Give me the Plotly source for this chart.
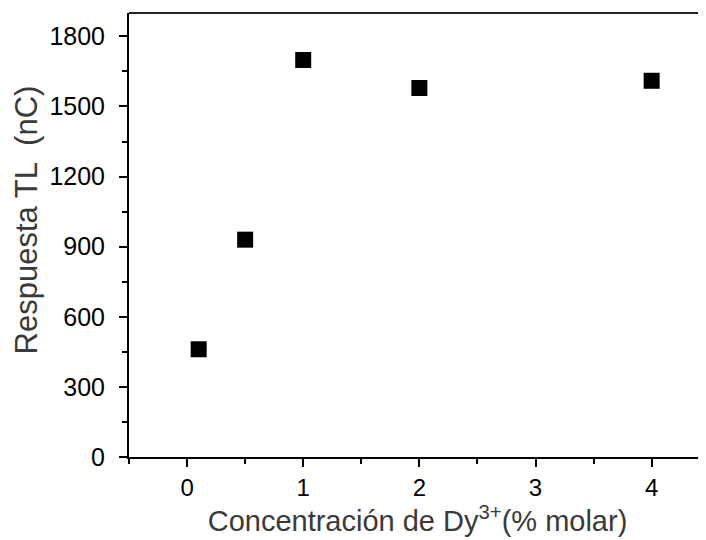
import plotly.graph_objects as go

conc = [0.1, 0.5, 1, 2, 4]
resp = [461, 930, 1699, 1579, 1610]
x_ticks = [0, 1, 2, 3, 4]
y_ticks = [0, 300, 600, 900, 1200, 1500, 1800]

fig = go.Figure()
fig.add_trace(go.Scatter(
    x=conc, y=resp, mode="markers",
    marker=dict(symbol="square", size=16, color="black", line=dict(width=0)),
    showlegend=False, cliponaxis=False,
))

font = "Liberation Sans, Arial, sans-serif"
# page body has an 8px margin, so the figure is shifted by 8px
fig.update_layout(
    width=698, height=532,
    margin=dict(l=121, r=0, t=5, b=83),
    paper_bgcolor="white", plot_bgcolor="white",
    font=dict(family=font, color="black"),
    xaxis=dict(
        range=[-0.5, 4.468], tickvals=x_ticks, ticktext=[str(v) for v in x_ticks],
        showgrid=False, zeroline=False, showline=True, linecolor="black", linewidth=2,
        ticks="outside", ticklen=8, tickwidth=2, tickcolor="black",
        minor=dict(tickvals=[-0.5, 0.5, 1.5, 2.5, 3.5], ticks="outside", ticklen=5, tickwidth=2, tickcolor="black"),
        tickfont=dict(size=24, color="black"), ticklabelstandoff=0,
        title=dict(text="Concentración de Dy<sup>3+</sup>(% molar)", font=dict(size=29, color="#3a3a3a"), standoff=8),
    ),
    yaxis=dict(
        range=[0, 1900], tickvals=y_ticks, ticktext=[str(v) for v in y_ticks],
        showgrid=False, zeroline=False, showline=True, linecolor="black", linewidth=2,
        ticks="outside", ticklen=8, tickwidth=2, tickcolor="black",
        minor=dict(dtick=150, ticks="outside", ticklen=5, tickwidth=2, tickcolor="black"),
        tickfont=dict(size=25, color="black"), ticklabelstandoff=9,
    ),
    annotations=[dict(text="Respuesta TL  (nC)", textangle=-90, showarrow=False,
                      xref="paper", yref="paper", x=-0.1776, y=0.534,
                      xanchor="center", yanchor="middle",
                      font=dict(size=31, color="#3a3a3a"))],
    shapes=[dict(type="line", xref="paper", yref="paper", x0=0, x1=1, y0=1, y1=1,
                 line=dict(color="#222222", width=2))],
)

fig.write_html("out.html")
